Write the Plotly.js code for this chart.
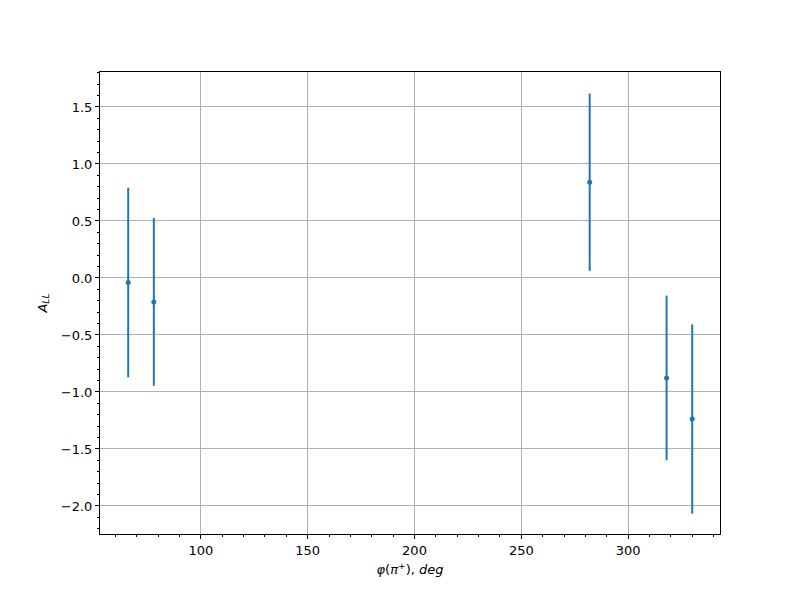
<!DOCTYPE html>
<html>
<head>
<meta charset="utf-8">
<script src="https://cdn.plot.ly/plotly-3.0.1.min.js"></script>
<style>html,body{margin:0;padding:0;background:#fff;}#chart{width:800px;height:600px;}</style>
</head>
<body>
<div id="chart"></div>
<script>
const phi = [66, 78, 282, 318, 330];
const all = [-0.04, -0.21, 0.84, -0.877, -1.237];
const errs = [0.832, 0.736, 0.778, 0.722, 0.83];

const font = {family: 'DejaVu Sans, sans-serif', size: 13, color: '#000'};
const trace = {
  x: phi, y: all, type: 'scatter', mode: 'markers',
  marker: {color: '#1f77b4', size: 5},
  error_y: {type: 'data', array: errs, visible: true, color: '#1f77b4', thickness: 2, width: 0},
  showlegend: false
};
const axisCommon = {
  showline: true, mirror: true, linecolor: '#000', linewidth: 1,
  ticks: 'outside', ticklen: 4, tickwidth: 1, tickcolor: '#000',
  showgrid: true, gridcolor: '#b0b0b0', gridwidth: 1, zeroline: false,
  tickfont: font
};
const layout = {
  width: 800, height: 600,
  paper_bgcolor: '#fff', plot_bgcolor: '#fff',
  margin: {l: 100, r: 80, t: 72, b: 66},
  font: font,
  xaxis: Object.assign({}, axisCommon, {
    range: [52.8, 343], tickmode: 'linear', tick0: 100, dtick: 50,
    minor: {dtick: 10, tick0: 0, ticks: 'outside', ticklen: 2, tickcolor: '#000', showgrid: false},
    title: {text: '<i>φ</i>(<i>π</i><sup>+</sup>), <i>deg</i>', font: font, standoff: 8}
  }),
  yaxis: Object.assign({}, axisCommon, {
    range: [-2.246, 1.807], tickmode: 'linear', tick0: 0, dtick: 0.5, tickformat: '.1f',
    minor: {dtick: 0.1, tick0: 0, ticks: 'outside', ticklen: 2, tickcolor: '#000', showgrid: false},
    title: {text: '<i>A</i><sub><i>LL</i></sub>', font: font, standoff: 10}
  })
};
Plotly.newPlot('chart', [trace], layout, {displayModeBar: false, staticPlot: true});
</script>
</body>
</html>
